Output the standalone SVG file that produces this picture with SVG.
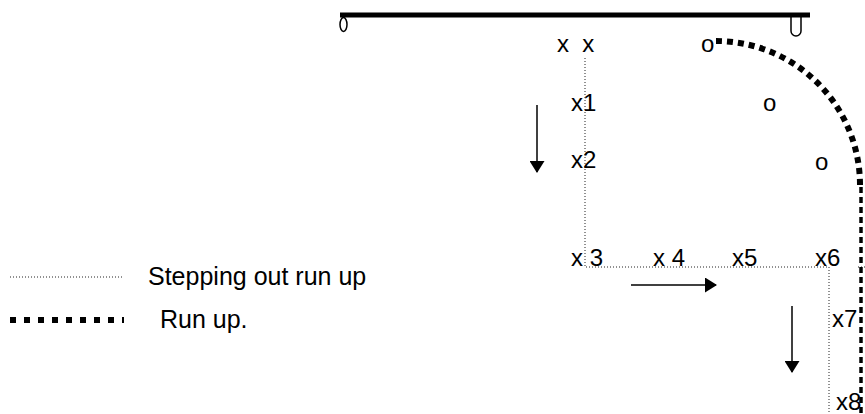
<svg xmlns="http://www.w3.org/2000/svg" width="865" height="414" viewBox="0 0 865 414">
<style>
text{font-family:"Liberation Sans",Arial,sans-serif;font-size:24px;fill:#000}
.dot{stroke:#222;stroke-width:1;stroke-dasharray:1 2;fill:none}
.run{stroke:#000;fill:none}
.arr{stroke:#000;stroke-width:1.5;fill:none;marker-end:url(#ah)}
</style>
<defs>
<marker id="ah" viewBox="0 0 12 15" refX="11" refY="7.5" markerWidth="12" markerHeight="15" markerUnits="userSpaceOnUse" orient="auto"><path d="M0,0 L12,7.5 L0,15 Z" fill="#000"/></marker>
</defs>
<g id="bar">
<line x1="340" y1="15" x2="810" y2="15" stroke="#000" stroke-width="5"/>
<ellipse cx="343.5" cy="24.5" rx="3.5" ry="7" fill="none" stroke="#000" stroke-width="1.5"/>
<path d="M791,17 V31 a5,5 0 0 0 10,0 V17" fill="none" stroke="#000" stroke-width="1.5"/>
</g>
<g id="connectors">
<path class="dot" d="M585,58 V267 H829 V414"/>
<line class="dot" x1="858" y1="267" x2="865" y2="267" stroke="#999"/>
<path class="run" stroke-width="6" stroke-dasharray="6 5" d="M716,41 A144,144 0 0 1 860,185"/>
<line class="run" stroke-width="3.5" stroke-dasharray="6 4" x1="861" y1="187" x2="861" y2="414"/>
<line class="arr" x1="537" y1="105" x2="537" y2="172"/>
<line class="arr" x1="631" y1="285" x2="716" y2="285"/>
<line class="arr" x1="792" y1="306" x2="792" y2="372"/>
</g>
<g id="labels">
<text x="557" y="52" xml:space="preserve">x  x</text>
<text x="701" y="52">o</text>
<text x="571" y="111">x1</text>
<text x="763" y="111">o</text>
<text x="571" y="168">x2</text>
<text x="815" y="170">o</text>
<text x="571" y="266">x 3</text>
<text x="653" y="266">x 4</text>
<text x="732" y="266">x5</text>
<text x="815" y="266">x6</text>
<text x="832" y="327">x7</text>
<text x="836" y="410">x8</text>
</g>
<g id="legend">
<line class="dot" x1="10" y1="277" x2="123" y2="277"/>
<text x="148" y="285" style="font-size:25px">Stepping out run up</text>
<line x1="10" y1="320" x2="124" y2="320" stroke="#000" stroke-width="6" stroke-dasharray="6 8"/>
<text x="160" y="328" style="font-size:25px">Run up.</text>
</g>
</svg>
